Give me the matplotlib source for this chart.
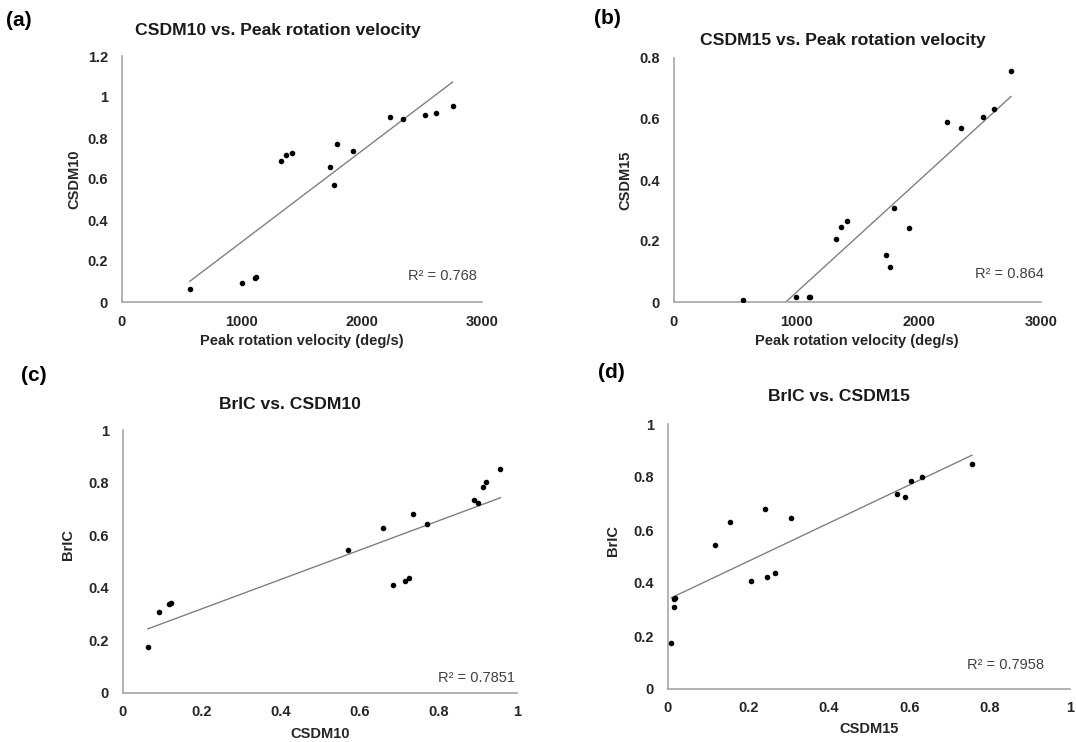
import numpy as np
import matplotlib
matplotlib.use("Agg")
import matplotlib.pyplot as plt

plt.rcParams['font.family'] = ['Liberation Sans', 'DejaVu Sans']

# data (16 impacts)
velocity = [565, 998, 1105, 1115, 1325, 1368, 1418, 1735, 1765, 1795, 1925, 2230, 2345, 2525, 2615, 2755]
csdm10 = [0.063, 0.091, 0.117, 0.123, 0.686, 0.715, 0.725, 0.660, 0.571, 0.772, 0.736, 0.901, 0.892, 0.914, 0.922, 0.958]
csdm15 = [0.008, 0.015, 0.015, 0.017, 0.207, 0.246, 0.265, 0.153, 0.116, 0.307, 0.242, 0.590, 0.570, 0.605, 0.632, 0.756]
bric = [0.175, 0.308, 0.339, 0.342, 0.409, 0.424, 0.436, 0.629, 0.545, 0.644, 0.680, 0.724, 0.735, 0.784, 0.801, 0.850]

W, H = 1076, 742


def fx(px):
    return px / W


def fy(py):
    return 1 - py / H


fig = plt.figure(figsize=(W / 100, H / 100), dpi=100)


def panel(box, x, y, xlim, ylim, xticks, yticks, xticklabels, yticklabels,
          title, title_xy, xlabel, xlabel_xy, ylabel, ylabel_xy, r2, r2_xy, tag, tag_xy):
    left, top, right, bottom = box
    ax = fig.add_axes([fx(left), fy(bottom), fx(right - left), (bottom - top) / H])
    ax.scatter(x, y, s=9, color='black', zorder=3)
    # linear trend line over the data range
    k, b = np.polyfit(x, y, 1)
    xs = np.array([min(x), max(x)])
    ax.plot(xs, k * xs + b, color='#808080', lw=1)
    ax.set_xlim(*xlim)
    ax.set_ylim(*ylim)
    ax.set_xticks(xticks)
    ax.set_xticklabels(xticklabels)
    ax.set_yticks(yticks)
    ax.set_yticklabels(yticklabels)
    ax.tick_params(axis='x', length=0, labelsize=10.5, pad=9)
    ax.tick_params(axis='y', length=0, labelsize=10.5, pad=10)
    for lab in ax.get_xticklabels() + ax.get_yticklabels():
        lab.set_fontweight('bold')
        lab.set_color('#262626')
    for s in ['top', 'right']:
        ax.spines[s].set_visible(False)
    for s in ['left', 'bottom']:
        ax.spines[s].set_color('#a6a6a6')
        ax.spines[s].set_linewidth(1.2)
    fig.text(fx(title_xy[0]), fy(title_xy[1]), title, fontsize=12.6, fontweight='bold',
             ha='center', va='center', color='#1a1a1a')
    fig.text(fx(xlabel_xy[0]), fy(xlabel_xy[1]), xlabel, fontsize=10.5, fontweight='bold',
             ha='center', va='center', color='#262626')
    fig.text(fx(ylabel_xy[0]), fy(ylabel_xy[1]), ylabel, fontsize=10.5, fontweight='bold',
             ha='center', va='center', rotation=90, color='#262626')
    fig.text(fx(r2_xy[0]), fy(r2_xy[1]), r2, fontsize=10.5, ha='right', va='center',
             color='#404040')
    fig.text(fx(tag_xy[0]), fy(tag_xy[1]), tag, fontsize=15, fontweight='bold',
             ha='left', va='center', color='black')
    return ax


panel((122, 56, 482, 302), velocity, csdm10, (0, 3000), (0, 1.2),
      [0, 1000, 2000, 3000], [0, 0.2, 0.4, 0.6, 0.8, 1.0, 1.2],
      ['0', '1000', '2000', '3000'], ['0', '0.2', '0.4', '0.6', '0.8', '1', '1.2'],
      'CSDM10 vs. Peak rotation velocity', (278, 31),
      'Peak rotation velocity (deg/s)', (302, 341), 'CSDM10', (74, 179),
      'R² = 0.768', (477, 276), '(a)', (6, 20))

panel((674, 58, 1041, 302), velocity, csdm15, (0, 3000), (0, 0.8),
      [0, 1000, 2000, 3000], [0, 0.2, 0.4, 0.6, 0.8],
      ['0', '1000', '2000', '3000'], ['0', '0.2', '0.4', '0.6', '0.8'],
      'CSDM15 vs. Peak rotation velocity', (843, 41),
      'Peak rotation velocity (deg/s)', (857, 341), 'CSDM15', (625, 180),
      'R² = 0.864', (1044, 274), '(b)', (594, 18))

panel((123, 430, 517, 693), csdm10, bric, (0, 1), (0, 1),
      [0, 0.2, 0.4, 0.6, 0.8, 1.0], [0, 0.2, 0.4, 0.6, 0.8, 1.0],
      ['0', '0.2', '0.4', '0.6', '0.8', '1'], ['0', '0.2', '0.4', '0.6', '0.8', '1'],
      'BrIC vs. CSDM10', (290, 404),
      'CSDM10', (320, 734), 'BrIC', (68, 545),
      'R² = 0.7851', (515, 678), '(c)', (21, 376))

panel((668, 424, 1070, 689), csdm15, bric, (0, 1), (0, 1),
      [0, 0.2, 0.4, 0.6, 0.8, 1.0], [0, 0.2, 0.4, 0.6, 0.8, 1.0],
      ['0', '0.2', '0.4', '0.6', '0.8', '1'], ['0', '0.2', '0.4', '0.6', '0.8', '1'],
      'BrIC vs. CSDM15', (839, 397),
      'CSDM15', (869, 729), 'BrIC', (613, 540),
      'R² = 0.7958', (1044, 665), '(d)', (598, 372))

fig.savefig('out.png', dpi=100)
